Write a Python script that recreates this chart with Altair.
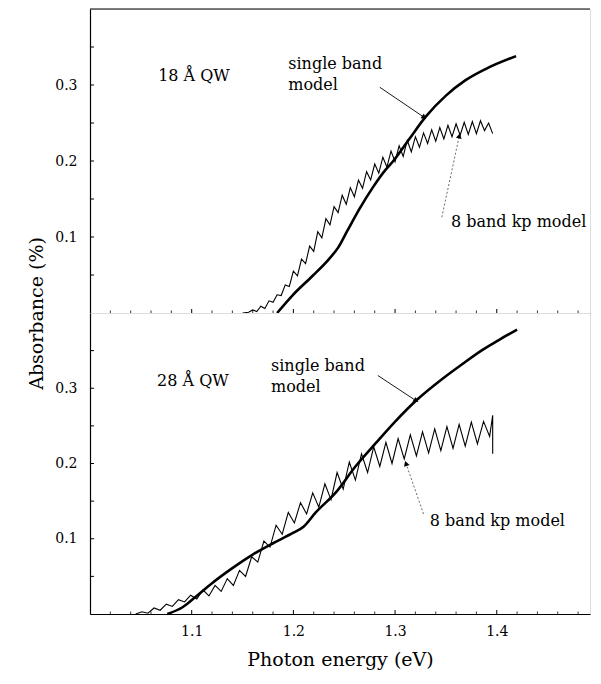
import altair as alt
import pandas as pd

# ---------------- data ----------------
# Top panel: 18 A QW
sb_top_x = [1.184, 1.199, 1.219, 1.235, 1.244, 1.253, 1.265, 1.278, 1.291, 1.297,
            1.314, 1.330, 1.350, 1.369, 1.389, 1.419]
sb_top_y = [0.000, 0.023, 0.049, 0.071, 0.086, 0.108, 0.137, 0.165, 0.189, 0.198,
            0.229, 0.258, 0.286, 0.306, 0.321, 0.338]

kp_top_x = [1.150, 1.156, 1.160, 1.164, 1.168, 1.172, 1.176, 1.180, 1.184, 1.188,
            1.192, 1.196, 1.200, 1.204, 1.208, 1.212, 1.216, 1.220, 1.224, 1.228,
            1.232, 1.236, 1.240, 1.244, 1.248, 1.252, 1.256, 1.260, 1.264, 1.268,
            1.272, 1.276, 1.280, 1.284, 1.288, 1.292, 1.296, 1.300, 1.304, 1.308,
            1.312, 1.316, 1.320, 1.324, 1.328, 1.332, 1.336, 1.340, 1.344, 1.348,
            1.352, 1.356, 1.360, 1.364, 1.368, 1.372, 1.376, 1.380, 1.384, 1.388,
            1.392, 1.396]
kp_top_y = [0.000, 0.001, 0.004, 0.002, 0.009, 0.006, 0.016, 0.014, 0.024, 0.023,
            0.037, 0.035, 0.055, 0.049, 0.071, 0.065, 0.088, 0.081, 0.107, 0.099,
            0.124, 0.116, 0.140, 0.132, 0.155, 0.143, 0.165, 0.153, 0.175, 0.164,
            0.186, 0.175, 0.196, 0.184, 0.205, 0.192, 0.213, 0.199, 0.220, 0.206,
            0.227, 0.212, 0.232, 0.218, 0.237, 0.223, 0.241, 0.226, 0.244, 0.229,
            0.247, 0.232, 0.249, 0.234, 0.251, 0.235, 0.252, 0.236, 0.253, 0.240,
            0.250, 0.236]

# Bottom panel: 28 A QW
sb_bot_x = [1.076, 1.091, 1.104, 1.120, 1.140, 1.160, 1.180, 1.200, 1.210, 1.222,
            1.242, 1.261, 1.281, 1.301, 1.321, 1.347, 1.366, 1.386, 1.402, 1.420]
sb_bot_y = [0.000, 0.009, 0.023, 0.041, 0.061, 0.079, 0.094, 0.108, 0.116, 0.135,
            0.162, 0.196, 0.227, 0.257, 0.284, 0.313, 0.332, 0.351, 0.364, 0.378]

kp_bot_x = [1.045, 1.051, 1.057, 1.063, 1.069, 1.075, 1.081, 1.087, 1.093, 1.099,
            1.105, 1.111, 1.117, 1.123, 1.129, 1.135, 1.141, 1.147, 1.153, 1.159,
            1.165, 1.171, 1.177, 1.183, 1.189, 1.195, 1.201, 1.207, 1.213, 1.219,
            1.225, 1.231, 1.237, 1.243, 1.249, 1.255, 1.261, 1.267, 1.273, 1.279,
            1.285, 1.291, 1.297, 1.303, 1.309, 1.315, 1.321, 1.327, 1.333, 1.339,
            1.345, 1.351, 1.357, 1.363, 1.369, 1.375, 1.381, 1.387, 1.393, 1.396,
            1.396]
kp_bot_y = [0.000, 0.003, 0.001, 0.008, 0.005, 0.013, 0.010, 0.019, 0.016, 0.025,
            0.020, 0.032, 0.024, 0.038, 0.030, 0.047, 0.038, 0.058, 0.050, 0.076,
            0.069, 0.097, 0.089, 0.118, 0.106, 0.135, 0.121, 0.148, 0.133, 0.161,
            0.142, 0.173, 0.152, 0.188, 0.166, 0.202, 0.178, 0.213, 0.188, 0.222,
            0.196, 0.228, 0.200, 0.233, 0.206, 0.238, 0.210, 0.242, 0.214, 0.246,
            0.217, 0.249, 0.220, 0.252, 0.223, 0.255, 0.226, 0.256, 0.236, 0.264,
            0.213]

# annotations (data coordinates)
ann_top_x = [1.067, 1.195, 1.195, 1.355]
ann_top_y = [0.305, 0.321, 0.293, 0.113]
ann_top_t = ["18 Å QW", "single band", "model", "8 band kp model"]

ann_bot_x = [1.066, 1.178, 1.178, 1.334]
ann_bot_y = [0.303, 0.323, 0.295, 0.117]
ann_bot_t = ["28 Å QW", "single band", "model", "8 band kp model"]

# arrows: start -> end, head angle (deg), kind
arr_top = {"x": [1.285, 1.346], "y": [0.297, 0.126], "x2": [1.328, 1.363],
           "y2": [0.258, 0.232], "ang": [125, 12], "kind": ["solid", "dot"]}
arr_bot = {"x": [1.283, 1.328], "y": [0.317, 0.133], "x2": [1.320, 1.311],
           "y2": [0.284, 0.199], "ang": [123, 341], "kind": ["solid", "dot"]}

x_major = [1.1, 1.2, 1.3, 1.4]
x_minor = [1.02, 1.04, 1.06, 1.08, 1.12, 1.14, 1.16, 1.18, 1.22, 1.24, 1.26, 1.28,
           1.32, 1.34, 1.36, 1.38, 1.42, 1.44, 1.46, 1.48]
y_ticks = [0.05, 0.10, 0.15, 0.20, 0.25, 0.30, 0.35]
y_labels = [0.1, 0.2, 0.3]

# ---------------- chart ----------------
FONT = "DejaVu Serif"
W, H1, H2 = 500, 304, 301
xscale = alt.Scale(domain=[1.0, 1.4917], nice=False, zero=False)
yscale = alt.Scale(domain=[0, 0.4], nice=False)


def make_panel(sbx, sby, kpx, kpy, ax, ay, at, arr, H, bottom):
    xaxis = alt.Axis(values=x_major, format=".1f", ticks=False, grid=False,
                     labels=bottom, domainColor="black", domainWidth=1.2,
                     labelFont=FONT, labelFontSize=14, labelColor="black",
                     labelPadding=10,
                     title="Photon energy (eV)" if bottom else "",
                     titleFont=FONT, titleFontSize=19, titleFontWeight="normal",
                     titleColor="black", titlePadding=12)
    yaxis_kw = dict(values=y_labels, format=".1f", ticks=False, grid=False,
                    domainColor="black", domainWidth=1.2, labelFont=FONT,
                    labelFontSize=14, labelColor="black", labelPadding=13)
    if bottom:
        yaxis = alt.Axis(title="", **yaxis_kw)
    else:
        yaxis = alt.Axis(title="Absorbance (%)", titleFont=FONT, titleFontSize=19,
                         titleFontWeight="normal", titleColor="black",
                         titleX=-44, titleY=H1, **yaxis_kw)
    X = lambda: alt.X("x:Q", scale=xscale, axis=xaxis)
    Y = lambda: alt.Y("y:Q", scale=yscale, axis=yaxis)

    sb = pd.DataFrame({"x": sbx, "y": sby})
    kp = pd.DataFrame({"x": kpx, "y": kpy, "i": list(range(len(kpx)))})
    ann = pd.DataFrame({"x": ax, "y": ay, "t": at})
    ar = pd.DataFrame(arr)

    kp_line = alt.Chart(kp).mark_line(color="black", strokeWidth=1.1).encode(
        x=X(), y=Y(), order="i:Q")
    sb_line = alt.Chart(sb).mark_line(color="black", strokeWidth=2.6,
                                      interpolate="monotone").encode(x=X(), y=Y())
    text = alt.Chart(ann).mark_text(font=FONT, fontSize=16, align="left",
                                    baseline="alphabetic", color="black").encode(
        x=X(), y=Y(), text="t:N")
    solid = ar[ar.kind == "solid"]
    dot = ar[ar.kind == "dot"]
    arr_solid = alt.Chart(solid).mark_rule(color="black", strokeWidth=0.9).encode(
        x=X(), y=Y(), x2="x2:Q", y2="y2:Q")
    arr_dot = alt.Chart(dot).mark_rule(color="#444", strokeWidth=0.8,
                                       strokeDash=[2, 2]).encode(
        x=X(), y=Y(), x2="x2:Q", y2="y2:Q")
    heads = alt.Chart(ar).mark_point(shape="triangle", filled=True, color="black",
                                     size=34, opacity=1).encode(
        x=alt.X("x2:Q", scale=xscale, axis=xaxis),
        y=alt.Y("y2:Q", scale=yscale, axis=yaxis),
        angle=alt.Angle("ang:Q", scale=None))

    yt = pd.DataFrame({"y": y_ticks})
    ytick_layer = alt.Chart(yt).mark_rule(color="black", strokeWidth=1).encode(
        y=Y(), x=alt.value(0), x2=alt.value(4))
    xmaj = pd.DataFrame({"x": x_major})
    xmin = pd.DataFrame({"x": x_minor})
    xmaj_layer = alt.Chart(xmaj).mark_rule(color="black", strokeWidth=1).encode(
        x=X(), y=alt.value(H), y2=alt.value(H - 4))
    xmin_layer = alt.Chart(xmin).mark_rule(color="black", strokeWidth=0.8).encode(
        x=X(), y=alt.value(H), y2=alt.value(H - 2.5))
    layers = [kp_line, sb_line, text, arr_solid, arr_dot, heads, ytick_layer,
              xmaj_layer, xmin_layer]
    if not bottom:
        border = alt.Chart(pd.DataFrame({"x": [1.0]})).mark_rule(
            color="black", strokeWidth=1.2).encode(
            x=alt.value(0), x2=alt.value(W), y=alt.value(0))
        layers.append(border)
    return alt.layer(*layers).properties(width=W, height=H)


top = make_panel(sb_top_x, sb_top_y, kp_top_x, kp_top_y, ann_top_x, ann_top_y,
                 ann_top_t, arr_top, H1, False)
bot = make_panel(sb_bot_x, sb_bot_y, kp_bot_x, kp_bot_y, ann_bot_x, ann_bot_y,
                 ann_bot_t, arr_bot, H2, True)

chart = alt.vconcat(top, bot, spacing=0).properties(
    bounds="flush",
    padding={"left": 18, "top": -1, "right": 0, "bottom": 0},
).configure_view(stroke=None).configure(background="white")

chart.save("out.html", embed_options={"renderer": "svg", "actions": False})
